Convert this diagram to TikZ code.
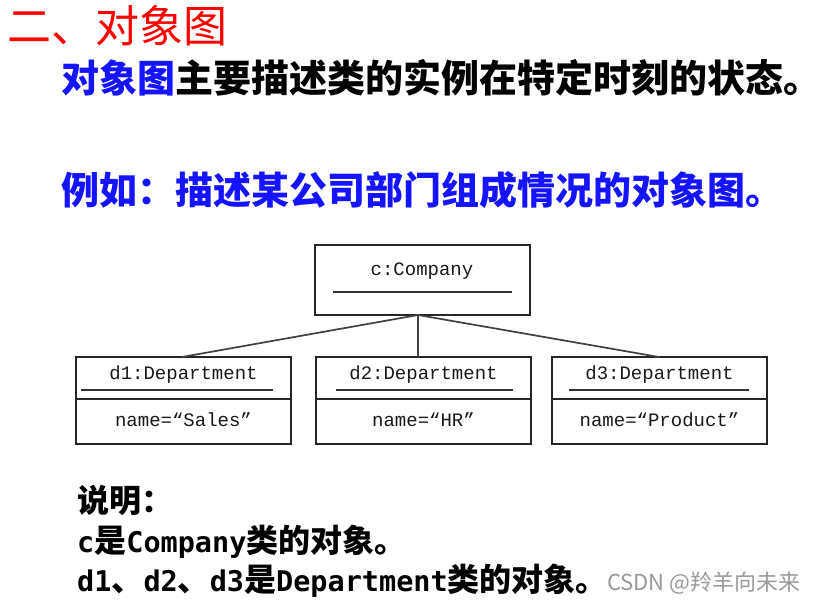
\documentclass[tikz,border=0pt]{standalone}
\usepackage{fontspec}
\usetikzlibrary{calc}
\newfontfamily\cjk{Noto Sans CJK SC}
\newfontfamily\monof{Liberation Mono}
\newfontfamily\latmono{DejaVu Sans Mono}
\definecolor{titlered}{RGB}{255,0,0}
\definecolor{textblue}{RGB}{20,20,255}
\newcommand{\lat}[1]{{\latmono\bfseries\fontsize{28.5}{28.5}\selectfont #1}}
\begin{document}
\begin{tikzpicture}[x=1pt,y=-1pt,
  objbox/.style={draw=black!85,line width=1.4pt,inner sep=0pt},
  boxtext/.style={font=\monof\fontsize{19}{19}\selectfont,anchor=center,text=black!90},
  conn/.style={draw=black!75,line width=1.7pt},
  uline/.style={draw=black!80,line width=1.3pt},
  note/.style={anchor=west,font=\cjk\bfseries\fontsize{32}{32}\selectfont,inner sep=0pt}]
\useasboundingbox (0,0) rectangle (822,603);
% title
\node[anchor=west,text=titlered,font=\cjk\fontsize{44}{44}\selectfont,inner sep=0pt] (title) at (7,26) {二、对象图};
\node[anchor=west,font=\cjk\bfseries\fontsize{38}{38}\selectfont,inner sep=0pt] (line1) at (61,78) {\textcolor{textblue}{对象图}主要描述类的实例在特定时刻的状态。};
\node[anchor=west,text=textblue,font=\cjk\bfseries\fontsize{38}{38}\selectfont,inner sep=0pt] (line2) at (61,190) {例如：描述某公司部门组成情况的对象图。};
% company box
\draw[objbox] (315,245) rectangle (530,315);
\node[boxtext] (ct) at (422,271) {c:Company};
\draw[uline] (333,292) -- (512,292);
\coordinate (cb) at (418,315);
% departments
\foreach \n/\x/\u/\lab/\val in {d1/76/5/d1:Department/name=“Sales”, d2/316/20/d2:Department/name=“HR”, d3/552/17/d3:Department/name=“Product”}{
  \draw[objbox] (\x,357) rectangle ++(215,87);
  \draw[objbox] (\x,399) -- ++(215,0);
  \node[boxtext] (\n-t) at ($(\x,375)+(107.5,0)$) {\lab};
  \node[boxtext] (\n-v) at ($(\x,420)+(107.5,0)$) {\val};
  \draw[uline] ($(\x,390)+(\u,0)$) -- ($(\x,390)+(197,0)$);
}
\coordinate (d1top) at (182,357);
\coordinate (d2top) at (418,357);
\coordinate (d3top) at (659,357);
\draw[conn] (cb) -- (d1top);
\draw[conn,line width=1.1pt] (cb) -- (d2top);
\draw[conn] (cb) -- (d3top);
% notes
\node[note] (n1) at (77,500) {说明：};
\node[note] (n2) at (77,542) {\lat{c}是\lat{Company}类的对象。};
\node[note] (n3) at (77,581) {\lat{d1}、\lat{d2}、\lat{d3}是\lat{Department}类的对象。};
\node[anchor=west,text=black!40,font=\cjk\fontsize{22}{22}\selectfont,inner sep=0pt] (wm) at (607,583) {CSDN @羚羊向未来};
\end{tikzpicture}
\end{document}
